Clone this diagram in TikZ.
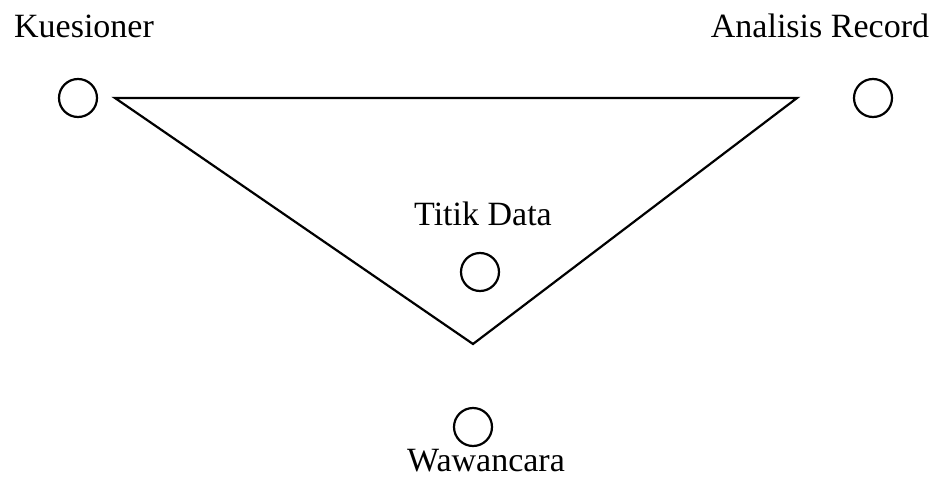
\documentclass[tikz,border=0pt]{standalone}
\usepackage{fontspec}
\setmainfont{Liberation Serif}
\begin{document}
\begin{tikzpicture}[x=1pt,y=-1pt,
  pt/.style={circle,draw,line width=2.2pt,minimum size=38pt,inner sep=0pt},
  lbl/.style={anchor=base,inner sep=0pt,font=\fontsize{34}{40}\selectfont},
  edge/.style={line width=2.2pt}]
\useasboundingbox (0,0) rectangle (935,479);
\node[pt] (kue) at (78,98) {};
\node[pt] (ana) at (873,98) {};
\node[pt] (tit) at (480,272) {};
\node[pt] (waw) at (473,427) {};
\node[lbl] (tkue) at (84,37) {Kuesioner};
\node[lbl] (tana) at (820,37) {Analisis Record};
\node[lbl] (ttit) at (483,225) {Titik Data};
\node[lbl] (twaw) at (486,471) {Wawancara};
\coordinate (a) at (115,98);
\coordinate (b) at (797,98);
\coordinate (c) at (473,344);
\draw[edge,line join=miter] (a) -- (b) -- (c) -- cycle;
\end{tikzpicture}
\end{document}
